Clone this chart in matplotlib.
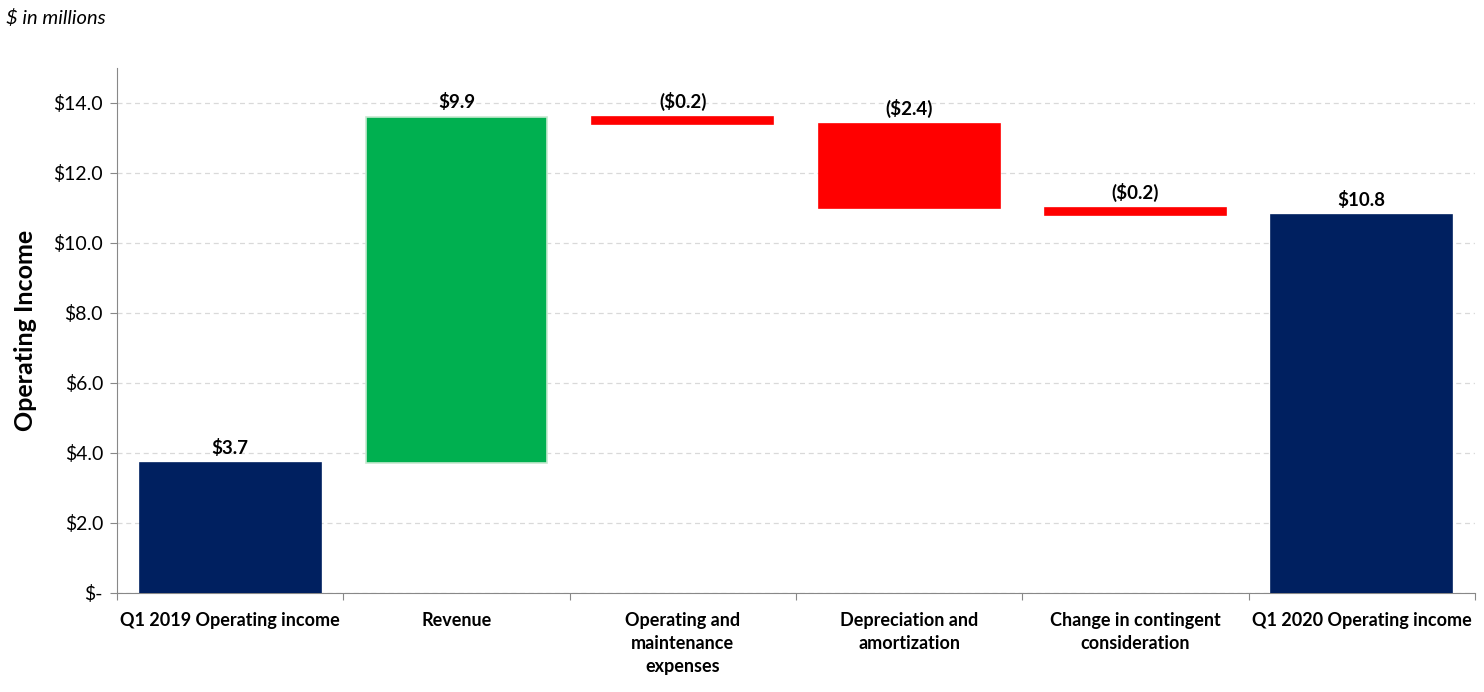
import numpy as np
import matplotlib.pyplot as plt
from matplotlib.ticker import FuncFormatter

plt.rcParams['font.family'] = ['Lato', 'DejaVu Sans']

# data
categories = ["Q1 2019 Operating income", "Revenue", "Operating and\nmaintenance\nexpenses",
              "Depreciation and\namortization", "Change in contingent\nconsideration",
              "Q1 2020 Operating income"]
values = [3.7, 9.9, -0.2, -2.4, -0.2, 10.8]
kinds = ["total", "delta", "delta", "delta", "delta", "total"]
labels = ["$3.7", "$9.9", "($0.2)", "($2.4)", "($0.2)", "$10.8"]

# waterfall bottoms/heights
bottoms = []
heights = []
running = 0.0
for v, k in zip(values, kinds):
    if k == "total":
        bottoms.append(0.0)
        heights.append(v)
        running = v
    else:
        if v >= 0:
            bottoms.append(running)
        else:
            bottoms.append(running + v)
        heights.append(abs(v))
        running += v

colors = []
edges = []
for v, k in zip(values, kinds):
    if k == "total":
        colors.append("#002060"); edges.append("#002060")
    elif v >= 0:
        colors.append("#00B050"); edges.append("#C6E9D0")
    else:
        colors.append("#FF0000"); edges.append("#FF0000")

fig = plt.figure(figsize=(14.84, 6.92), dpi=100)
ax = fig.add_axes([0.0788, 0.1431, 0.9151, 0.7587])

x = np.arange(len(categories))
ax.bar(x, heights, bottom=bottoms, width=0.8, color=colors, edgecolor=edges, linewidth=1.2, zorder=3)

for xi, b, h, lab in zip(x, bottoms, heights, labels):
    ax.text(xi, b + h + 0.18, lab, ha="center", va="bottom", fontsize=13.5, fontweight="bold", color="black")

ax.set_xlim(-0.5, len(categories) - 0.5)
ax.set_ylim(0, 15)
ax.set_yticks(np.arange(0, 15, 2))
ax.yaxis.set_major_formatter(FuncFormatter(lambda v, p: "$-" if v == 0 else "${:.1f}".format(v)))
ax.grid(axis="y", color="#D9D9D9", linestyle=(0, (4, 3)), linewidth=0.9, zorder=0)

ax.set_xticks(np.arange(-0.5, len(categories), 1.0))
ax.set_xticklabels([])
ax.set_xticks(x, minor=True)
ax.set_xticklabels(categories, minor=True, fontsize=13, fontweight="bold", linespacing=1.4, va="top")
ax.tick_params(axis="x", which="minor", length=0, pad=14)
ax.tick_params(axis="x", which="major", length=5, color="#888888")
ax.tick_params(axis="y", length=5, color="#888888", labelsize=14, pad=5)

for s in ["top", "right"]:
    ax.spines[s].set_visible(False)
ax.spines["left"].set_color("#888888")
ax.spines["bottom"].set_color("#888888")

ax.set_ylabel("Operating Income", fontsize=18, fontweight="bold", labelpad=12)
fig.text(0.004, 0.974, "$ in millions", fontsize=14.5, fontstyle="italic", ha="left", va="center")

fig.savefig("out.png", dpi=100)
